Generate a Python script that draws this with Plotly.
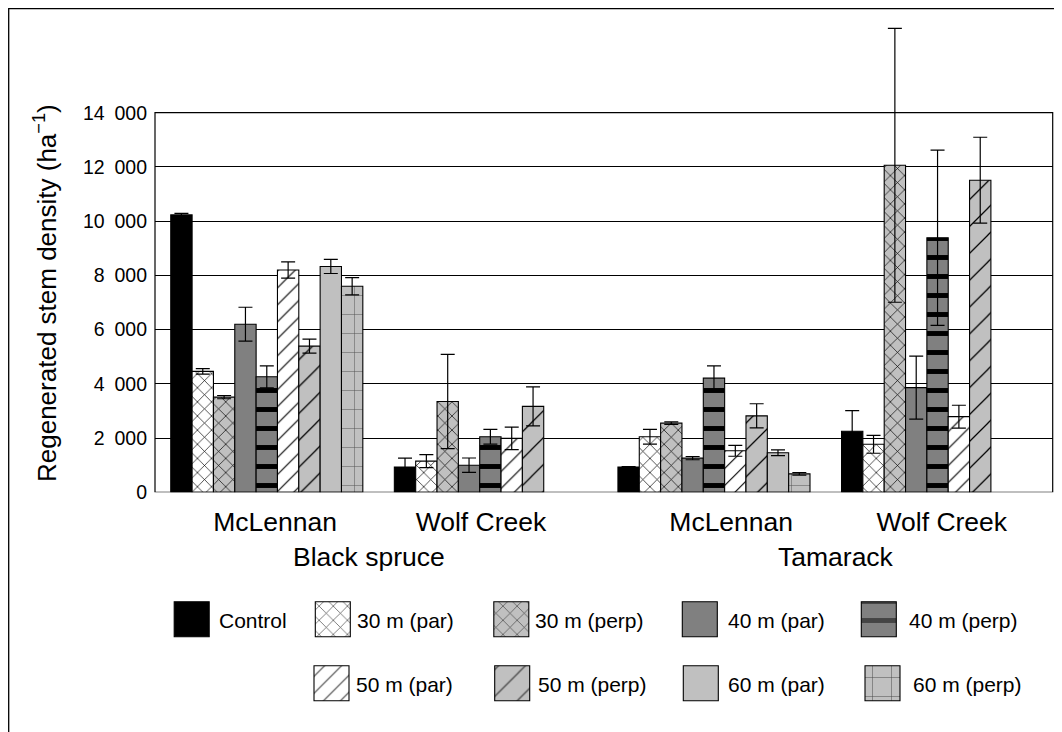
import plotly.graph_objects as go

# ---------------- data ----------------
sites = ["McLennan", "Wolf Creek", "McLennan", "Wolf Creek"]
species = ["Black spruce", "Tamarack"]
series_names = ["Control", "30 m (par)", "30 m (perp)", "40 m (par)", "40 m (perp)",
                "50 m (par)", "50 m (perp)", "60 m (par)", "60 m (perp)"]

# order: Black spruce McLennan, Black spruce Wolf Creek, Tamarack McLennan, Tamarack Wolf Creek
control = [10230, 930, 930, 2250]
m30_par = [4460, 1150, 2050, 1770]
m30_perp = [3510, 3350, 2550, 12060]
m40_par = [6200, 1000, 1260, 3860]
m40_perp = [4260, 2050, 4210, 9390]
m50_par = [8200, 1990, 1530, 2790]
m50_perp = [5390, 3170, 2820, 11510]
m60_par = [8330, None, 1460, None]
m60_perp = [7600, None, 680, None]

control_err = [60, 330, 20, 765]
m30_par_err = [100, 240, 270, 330]
m30_perp_err = [60, 1740, 50, 5050]
m40_par_err = [625, 265, 60, 1160]
m40_perp_err = [405, 270, 450, 3230]
m50_par_err = [300, 415, 200, 420]
m50_perp_err = [260, 720, 445, 1585]
m60_par_err = [260, 0, 105, 0]
m60_perp_err = [320, 0, 50, 0]

y_ticks = [0, 2000, 4000, 6000, 8000, 10000, 12000, 14000]
y_max = 14000

series_values = [control, m30_par, m30_perp, m40_par, m40_perp,
                 m50_par, m50_perp, m60_par, m60_perp]
series_errors = [control_err, m30_par_err, m30_perp_err, m40_par_err, m40_perp_err,
                 m50_par_err, m50_perp_err, m60_par_err, m60_perp_err]

# ---------------- styles ----------------
BLACK = "#000000"
DGRAY = "#808080"
LGRAY = "#c0c0c0"
WHITE = "#ffffff"
styles = [
    dict(color=BLACK, shape="", fg=BLACK, size=8, sol=0.3),
    dict(color=WHITE, shape="x", fg=BLACK, size=10, sol=0.13),
    dict(color=LGRAY, shape="x", fg=BLACK, size=10, sol=0.13),
    dict(color=DGRAY, shape="", fg=BLACK, size=8, sol=0.3),
    dict(color=DGRAY, shape="-", fg=BLACK, size=19, sol=0.26),
    dict(color=WHITE, shape="/", fg=BLACK, size=12, sol=0.095),
    dict(color=LGRAY, shape="/", fg=BLACK, size=19, sol=0.065),
    dict(color=LGRAY, shape="", fg=BLACK, size=8, sol=0.3),
    dict(color=LGRAY, shape="+", fg="#505050", size=19, sol=0.05),
]

# browser body margin is 8 px; the figure fills the rest of the 1062x732 window
OFF = 8
W, H = 1062 - OFF, 732 - OFF
FONT = "Liberation Sans, Arial, sans-serif"


def px(x):
    return (x - OFF) / W


def py(y):
    return 1 - (y - OFF) / H


# plot area pixel geometry (window coordinates)
PL, PR = 155, 1052.7
PB, PT = 492.3, 112.7      # y = 0 and y = 14000
DOM_TOP = 20               # domain extended upward so long error bars are not clipped
y_range_top = y_max * (PB - DOM_TOP) / (PB - PT)

fig = go.Figure()

x_pos = list(range(len(sites)))
for name, vals, errs, st in zip(series_names, series_values, series_errors, styles):
    fig.add_trace(go.Bar(
        x=x_pos, y=vals, name=name,
        marker=dict(color=st["color"], line=dict(color=BLACK, width=1.1),
                    pattern=dict(shape=st["shape"], fgcolor=st["fg"], bgcolor=st["color"],
                                 fgopacity=1, size=st["size"], solidity=st["sol"],
                                 fillmode="overlay")),
        error_y=dict(type="data", array=errs, visible=True, color=BLACK,
                     thickness=1.2, width=7),
        showlegend=False, hoverinfo="name+y",
        xaxis="x", yaxis="y",
    ))

# ---------------- legend (large swatches drawn as bars in a helper subplot) ----------------
legend_cx = [191.7, 332.8, 511.3, 699.8, 878.8, 331.5, 512.2, 700.8, 882.5]
legend_top = [601.7] * 5 + [665.7] * 4
legend_text_x = [217, 355, 533, 726, 907, 354, 536, 726, 911]
legend_text_y = [620] * 5 + [684] * 4
SW = 35
fig.add_trace(go.Bar(
    x=legend_cx, y=[SW] * len(series_names), base=legend_top, width=[SW] * len(series_names),
    marker=dict(color=[s["color"] for s in styles], line=dict(color=BLACK, width=1.1),
                pattern=dict(shape=[s["shape"] for s in styles],
                             fgcolor=[s["fg"] for s in styles],
                             bgcolor=[s["color"] for s in styles],
                             fgopacity=1,
                             size=[s["size"] for s in styles],
                             solidity=[s["sol"] for s in styles], fillmode="overlay")),
    hovertext=series_names, hoverinfo="text",
    showlegend=False, xaxis="x2", yaxis="y2",
))

annotations = []
for t, tx, ty in zip(series_names, legend_text_x, legend_text_y):
    annotations.append(dict(text=t, x=px(tx), y=py(ty), xref="paper", yref="paper",
                            xanchor="left", yanchor="middle", showarrow=False,
                            font=dict(family=FONT, size=21, color=BLACK)))

# species group labels
species_cx = [369, 836]
for t, cx in zip(species, species_cx):
    annotations.append(dict(text=t, x=px(cx), y=py(557), xref="paper", yref="paper",
                            xanchor="center", yanchor="middle", showarrow=False,
                            font=dict(family=FONT, size=26.5, color=BLACK)))

# y-axis title
annotations.append(dict(text="Regenerated stem density (ha<sup>\u22121</sup>)",
                        x=px(45), y=py(293), xref="paper", yref="paper",
                        xanchor="center", yanchor="middle", textangle=-90, showarrow=False,
                        font=dict(family=FONT, size=26, color=BLACK)))

site_tick_pos = [0.037, 0.958, 2.077, 3.019]

fig.update_layout(
    width=W, height=H,
    margin=dict(l=0, r=0, t=0, b=0, pad=0),
    paper_bgcolor=WHITE, plot_bgcolor=WHITE,
    barmode="group", bargap=0.141, bargroupgap=0,
    font=dict(family=FONT, color=BLACK),
    xaxis=dict(domain=[px(PL), px(PR)], range=[-0.5, 3.515],
               tickvals=site_tick_pos, ticktext=sites, ticks="",
               tickfont=dict(size=26.5, family=FONT, color=BLACK),
               ticklabelstandoff=11, automargin=False,
               showline=False, showgrid=False, zeroline=False, anchor="y"),
    yaxis=dict(domain=[py(PB), py(DOM_TOP)], range=[0, y_range_top],
               tickvals=y_ticks,
               ticktext=["{:,}".format(v).replace(",", "\u2002") for v in y_ticks],
               ticks="", tickfont=dict(size=19.5, family=FONT, color=BLACK),
               ticklabelstandoff=7, automargin=False,
               showline=False, showgrid=True, gridcolor=BLACK, gridwidth=1,
               zeroline=False, anchor="x"),
    xaxis2=dict(domain=[0, 1], range=[OFF, 1062], visible=False, anchor="y2",
                fixedrange=True, automargin=False),
    yaxis2=dict(domain=[0, py(592)], range=[732, 592], visible=False, anchor="x2",
                fixedrange=True, automargin=False),
    annotations=annotations,
    shapes=[
        # plot-area frame (0 .. 14000)
        dict(type="rect", xref="x domain", yref="y", x0=0, x1=1, y0=0, y1=y_max,
             line=dict(color=BLACK, width=1.2), fillcolor="rgba(0,0,0,0)", layer="above"),
        # outer chart border
        dict(type="rect", xref="paper", yref="paper",
             x0=0.7 / W, x1=1.01, y0=-0.01, y1=1 - 0.7 / H,
             line=dict(color=BLACK, width=1.3), fillcolor="rgba(0,0,0,0)", layer="below"),
    ],
)

fig.write_html("out.html")
